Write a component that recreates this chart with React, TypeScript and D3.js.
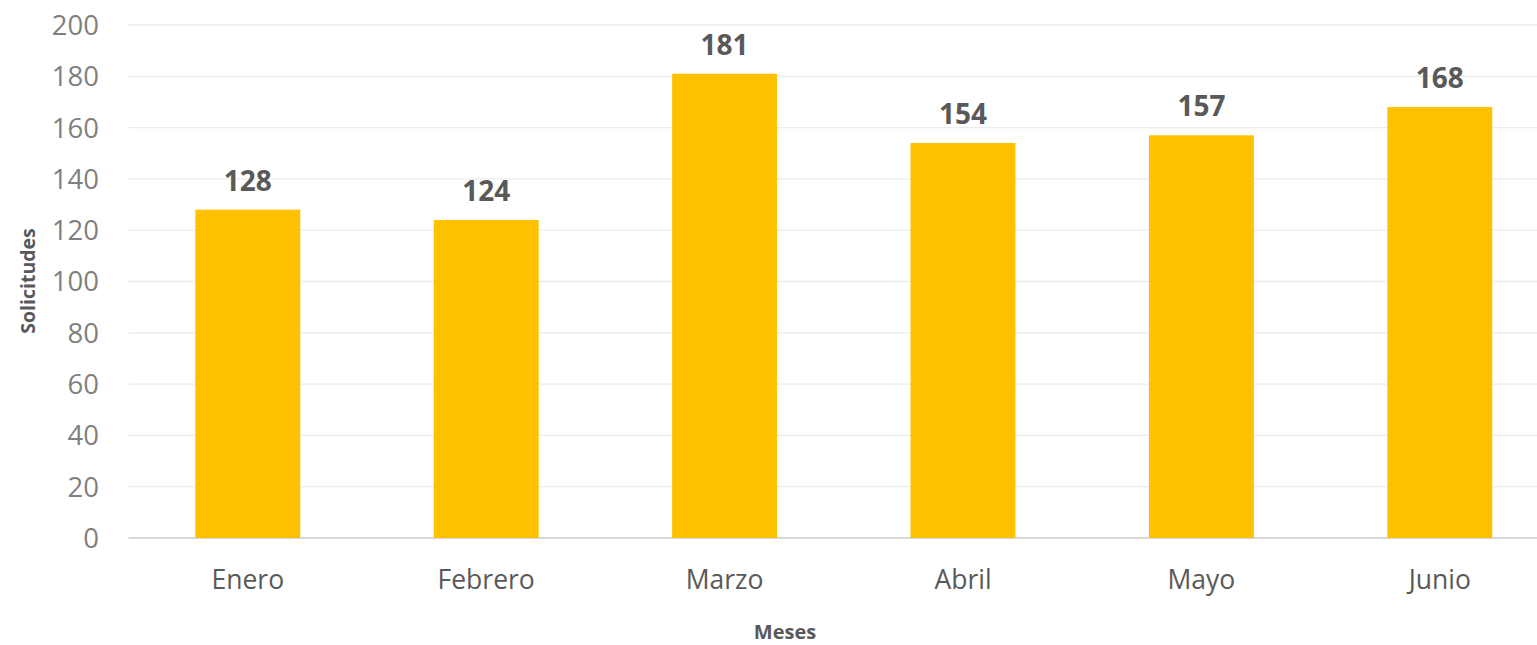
import React from "react";
import * as d3 from "d3";

const categories = ["Enero", "Febrero", "Marzo", "Abril", "Mayo", "Junio"];
const values = [128, 124, 181, 154, 157, 168];
const yTicks = [0, 20, 40, 60, 80, 100, 120, 140, 160, 180, 200];
const xTitle = "Meses";
const yTitle = "Solicitudes";

const W = 1537;
const H = 645;
const FONT = "'Open Sans', 'Noto Sans', sans-serif";

export default function App() {
  const x = d3
    .scaleBand<string>()
    .domain(categories)
    .range([128.6, 1559])
    .paddingInner(0.56)
    .paddingOuter(0.28);
  const y = d3.scaleLinear().domain([0, 200]).range([538, 25]);

  return (
    <svg
      width={W}
      height={H}
      style={{ position: "absolute", left: 0, top: 0, background: "#fff" }}
      fontFamily={FONT}
    >
      {yTicks.map((t) => (
        <g key={t}>
          <line
            x1={128.6}
            x2={W}
            y1={y(t)}
            y2={y(t)}
            stroke={t === 0 ? "#d9d9d9" : "#ececec"}
            strokeWidth={t === 0 ? 2 : 1.3}
          />
          <text
            x={99}
            y={y(t)}
            dy="0.36em"
            textAnchor="end"
            fontSize={27.5}
            fill="#7f7f7f"
          >
            {t}
          </text>
        </g>
      ))}
      {categories.map((c, i) => (
        <g key={c}>
          <rect
            x={x(c)!}
            y={y(values[i])}
            width={x.bandwidth()}
            height={y(0) - y(values[i])}
            fill="#FFC000"
          />
          <text
            x={x(c)! + x.bandwidth() / 2}
            y={y(values[i]) - 19}
            textAnchor="middle"
            fontSize={28}
            fontWeight="bold"
            fill="#595959"
          >
            {values[i]}
          </text>
          <text
            x={x(c)! + x.bandwidth() / 2}
            y={589}
            textAnchor="middle"
            fontSize={26.5}
            fill="#595959"
          >
            {c}
          </text>
        </g>
      ))}
      <text
        x={785}
        y={639}
        textAnchor="middle"
        fontSize={20}
        fontWeight="bold"
        fill="#595959"
      >
        {xTitle}
      </text>
      <text
        transform={`translate(35,281) rotate(-90)`}
        textAnchor="middle"
        fontSize={19.5}
        fontWeight="bold"
        fill="#595959"
      >
        {yTitle}
      </text>
    </svg>
  );
}
